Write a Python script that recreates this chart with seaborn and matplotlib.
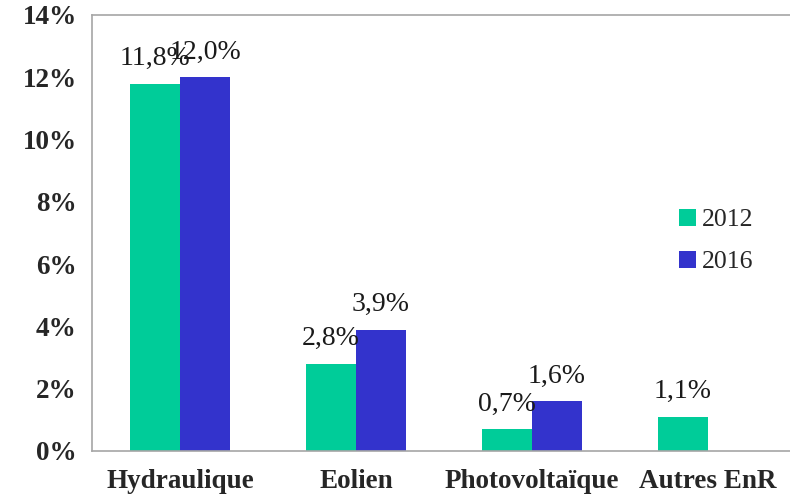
import matplotlib
matplotlib.use("Agg")
import matplotlib.pyplot as plt
import seaborn as sns
import pandas as pd
import numpy as np

categories = ["Hydraulique", "Eolien", "Photovoltaïque", "Autres EnR"]
years = ["2012", "2016"]
values_2012 = [11.8, 2.8, 0.7, 1.1]
values_2016 = [12.0, 3.9, 1.6, np.nan]
y_ticks = [0, 2, 4, 6, 8, 10, 12, 14]

colors = {"2012": "#00CC99", "2016": "#3333CC"}
axis_gray = "#A6A6A6"

sns.set_theme(style="white")
plt.rcParams["font.family"] = ["Liberation Serif", "DejaVu Serif"]

df = pd.DataFrame({
    "categorie": categories * 2,
    "annee": [years[0]] * 4 + [years[1]] * 4,
    "part": values_2012 + values_2016,
})

fig = plt.figure(figsize=(7.90, 4.99), dpi=100)
ax = fig.add_axes([92 / 790, 48 / 499, 704 / 790, 436 / 499])

sns.barplot(data=df, x="categorie", y="part", hue="annee", order=categories,
            hue_order=years, palette=colors, width=0.568, saturation=1,
            linewidth=0, ax=ax, legend=True)

# value labels above each bar, decimal comma
for container, year in zip(ax.containers, years):
    for bar in container:
        h = bar.get_height()
        if np.isnan(h) or h == 0:
            continue
        ax.text(bar.get_x() + bar.get_width() / 2, h + 0.6,
                f"{h:.1f}%".replace(".", ","), ha="center", va="baseline",
                fontsize=20, color="#1a1a1a")

ax.set_xlim(-0.5, 3.5)
ax.set_ylim(0, 14)
ax.set_yticks(y_ticks)
ax.set_yticklabels([f"{t}%" for t in y_ticks], fontsize=19.5, fontweight="bold")
ax.set_xticks(range(len(categories)))
ax.set_xticklabels(categories, fontsize=19.5, fontweight="bold")
ax.tick_params(axis="x", length=0, pad=13)
ax.tick_params(axis="y", length=7, width=1, color=axis_gray, direction="out", pad=4)
# category separators on the baseline
ax.set_xticks([-0.5, 0.5, 1.5, 2.5], minor=True)
ax.tick_params(axis="x", which="minor", length=8, width=1, color=axis_gray, direction="out")
ax.set_xlabel("")
ax.set_ylabel("")

for side in ["left", "bottom", "top"]:
    ax.spines[side].set_visible(True)
    ax.spines[side].set_color(axis_gray)
    ax.spines[side].set_linewidth(1.2)
ax.spines["right"].set_visible(False)

handles, labels = ax.get_legend_handles_labels()
ax.legend(handles, labels, loc="center left", bbox_to_anchor=(656 / 790, 1 - 241 / 499),
          bbox_transform=fig.transFigure, frameon=False, fontsize=18.5,
          handlelength=0.65, handleheight=0.65, handletextpad=0.25, labelspacing=0.75)

fig.savefig("out.png", dpi=100)
